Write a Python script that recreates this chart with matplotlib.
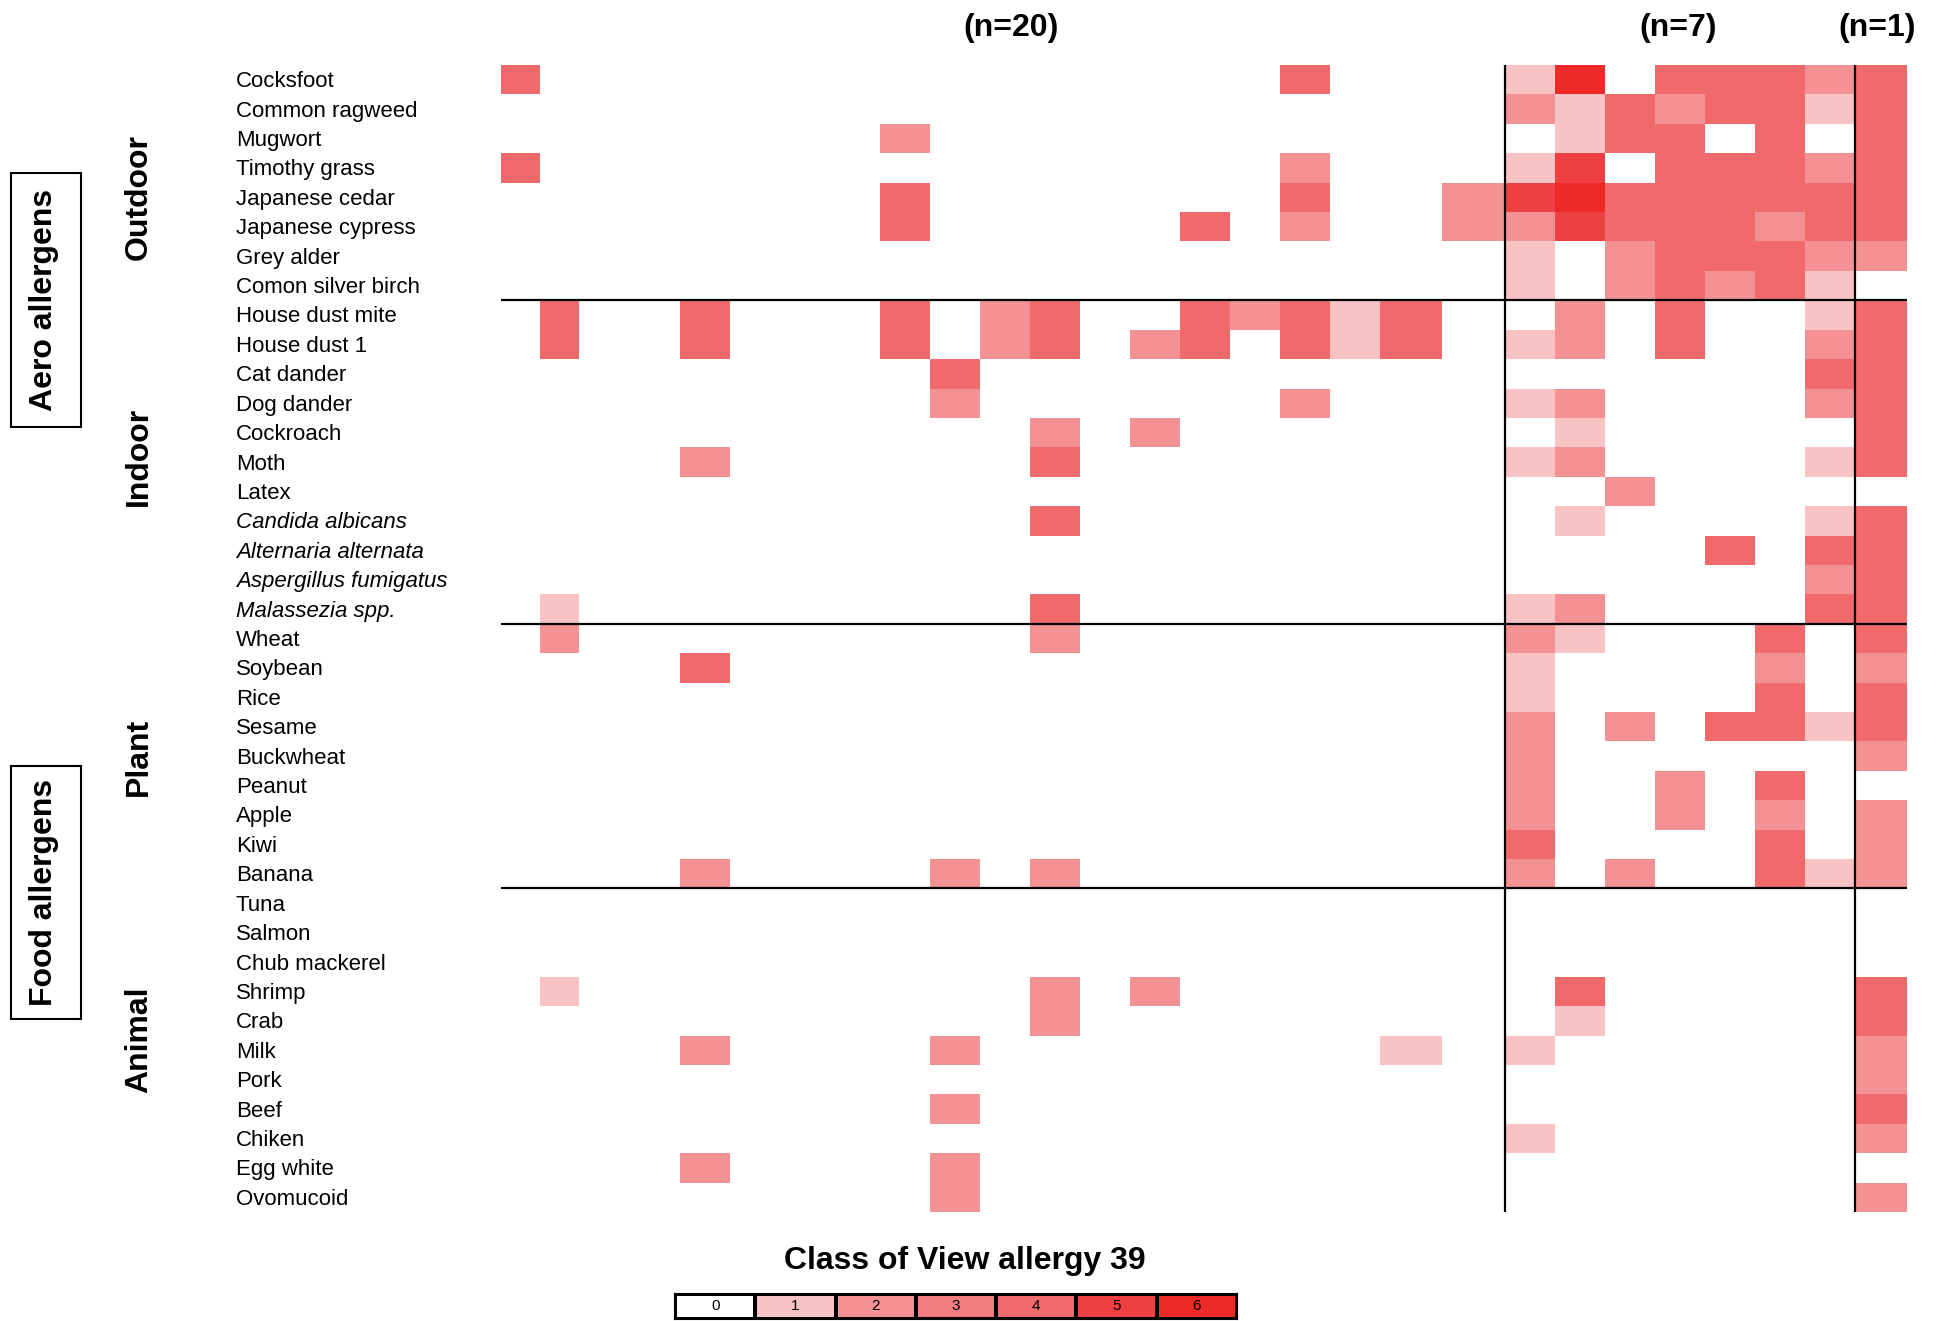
import numpy as np
import matplotlib
matplotlib.use('Agg')
import matplotlib.pyplot as plt
from matplotlib.colors import ListedColormap, BoundaryNorm
from matplotlib.patches import Rectangle

plt.rcParams['font.family'] = ['Liberation Sans', 'DejaVu Sans']

# allergen names, top to bottom
outdoor = ['Cocksfoot', 'Common ragweed', 'Mugwort', 'Timothy grass', 'Japanese cedar',
           'Japanese cypress', 'Grey alder', 'Comon silver birch']
indoor = ['House dust mite', 'House dust 1', 'Cat dander', 'Dog dander', 'Cockroach', 'Moth',
          'Latex', 'Candida albicans', 'Alternaria alternata', 'Aspergillus fumigatus',
          'Malassezia spp.']
plant = ['Wheat', 'Soybean', 'Rice', 'Sesame', 'Buckwheat', 'Peanut', 'Apple', 'Kiwi', 'Banana']
animal = ['Tuna', 'Salmon', 'Chub mackerel', 'Shrimp', 'Crab', 'Milk', 'Pork', 'Beef', 'Chiken',
          'Egg white', 'Ovomucoid']
italic_names = ['Candida albicans', 'Alternaria alternata', 'Aspergillus fumigatus', 'Malassezia spp.']

# class per patient: 20 patients | 7 patients | 1 patient
outdoor_cls = [
    [4,0,0,0,0,0,0,0,0,0,0,0,0,0,0,0,4,0,0,0,  1,6,0,4,4,4,2,4],
    [0,0,0,0,0,0,0,0,0,0,0,0,0,0,0,0,0,0,0,0,  2,1,4,2,4,4,1,4],
    [0,0,0,0,0,0,0,0,2,0,0,0,0,0,0,0,0,0,0,0,  0,1,4,4,0,4,0,4],
    [4,0,0,0,0,0,0,0,0,0,0,0,0,0,0,0,2,0,0,0,  1,5,0,4,4,4,2,4],
    [0,0,0,0,0,0,0,0,4,0,0,0,0,0,0,0,4,0,0,2,  5,6,4,4,4,4,4,4],
    [0,0,0,0,0,0,0,0,4,0,0,0,0,0,4,0,2,0,0,2,  2,5,4,4,4,2,4,4],
    [0,0,0,0,0,0,0,0,0,0,0,0,0,0,0,0,0,0,0,0,  1,0,2,4,4,4,2,2],
    [0,0,0,0,0,0,0,0,0,0,0,0,0,0,0,0,0,0,0,0,  1,0,2,4,2,4,1,0],
]
indoor_cls = [
    [0,4,0,0,4,0,0,0,4,0,2,4,0,0,4,2,4,1,4,0,  0,2,0,4,0,0,1,4],
    [0,4,0,0,4,0,0,0,4,0,2,4,0,2,4,0,4,1,4,0,  1,2,0,4,0,0,2,4],
    [0,0,0,0,0,0,0,0,0,4,0,0,0,0,0,0,0,0,0,0,  0,0,0,0,0,0,4,4],
    [0,0,0,0,0,0,0,0,0,2,0,0,0,0,0,0,2,0,0,0,  1,2,0,0,0,0,2,4],
    [0,0,0,0,0,0,0,0,0,0,0,2,0,2,0,0,0,0,0,0,  0,1,0,0,0,0,0,4],
    [0,0,0,0,2,0,0,0,0,0,0,4,0,0,0,0,0,0,0,0,  1,2,0,0,0,0,1,4],
    [0,0,0,0,0,0,0,0,0,0,0,0,0,0,0,0,0,0,0,0,  0,0,2,0,0,0,0,0],
    [0,0,0,0,0,0,0,0,0,0,0,4,0,0,0,0,0,0,0,0,  0,1,0,0,0,0,1,4],
    [0,0,0,0,0,0,0,0,0,0,0,0,0,0,0,0,0,0,0,0,  0,0,0,0,4,0,4,4],
    [0,0,0,0,0,0,0,0,0,0,0,0,0,0,0,0,0,0,0,0,  0,0,0,0,0,0,2,4],
    [0,1,0,0,0,0,0,0,0,0,0,4,0,0,0,0,0,0,0,0,  1,2,0,0,0,0,4,4],
]
plant_cls = [
    [0,2,0,0,0,0,0,0,0,0,0,2,0,0,0,0,0,0,0,0,  2,1,0,0,0,4,0,4],
    [0,0,0,0,4,0,0,0,0,0,0,0,0,0,0,0,0,0,0,0,  1,0,0,0,0,2,0,2],
    [0,0,0,0,0,0,0,0,0,0,0,0,0,0,0,0,0,0,0,0,  1,0,0,0,0,4,0,4],
    [0,0,0,0,0,0,0,0,0,0,0,0,0,0,0,0,0,0,0,0,  2,0,2,0,4,4,1,4],
    [0,0,0,0,0,0,0,0,0,0,0,0,0,0,0,0,0,0,0,0,  2,0,0,0,0,0,0,2],
    [0,0,0,0,0,0,0,0,0,0,0,0,0,0,0,0,0,0,0,0,  2,0,0,2,0,4,0,0],
    [0,0,0,0,0,0,0,0,0,0,0,0,0,0,0,0,0,0,0,0,  2,0,0,2,0,2,0,2],
    [0,0,0,0,0,0,0,0,0,0,0,0,0,0,0,0,0,0,0,0,  4,0,0,0,0,4,0,2],
    [0,0,0,0,2,0,0,0,0,2,0,2,0,0,0,0,0,0,0,0,  2,0,2,0,0,4,1,2],
]
animal_cls = [
    [0,0,0,0,0,0,0,0,0,0,0,0,0,0,0,0,0,0,0,0,  0,0,0,0,0,0,0,0],
    [0,0,0,0,0,0,0,0,0,0,0,0,0,0,0,0,0,0,0,0,  0,0,0,0,0,0,0,0],
    [0,0,0,0,0,0,0,0,0,0,0,0,0,0,0,0,0,0,0,0,  0,0,0,0,0,0,0,0],
    [0,1,0,0,0,0,0,0,0,0,0,2,0,2,0,0,0,0,0,0,  0,4,0,0,0,0,0,4],
    [0,0,0,0,0,0,0,0,0,0,0,2,0,0,0,0,0,0,0,0,  0,1,0,0,0,0,0,4],
    [0,0,0,0,2,0,0,0,0,2,0,0,0,0,0,0,0,0,1,0,  1,0,0,0,0,0,0,2],
    [0,0,0,0,0,0,0,0,0,0,0,0,0,0,0,0,0,0,0,0,  0,0,0,0,0,0,0,2],
    [0,0,0,0,0,0,0,0,0,2,0,0,0,0,0,0,0,0,0,0,  0,0,0,0,0,0,0,4],
    [0,0,0,0,0,0,0,0,0,0,0,0,0,0,0,0,0,0,0,0,  1,0,0,0,0,0,0,2],
    [0,0,0,0,2,0,0,0,0,2,0,0,0,0,0,0,0,0,0,0,  0,0,0,0,0,0,0,0],
    [0,0,0,0,0,0,0,0,0,2,0,0,0,0,0,0,0,0,0,0,  0,0,0,0,0,0,0,2],
]
group_sizes = ['(n=20)', '(n=7)', '(n=1)']
classes = [0, 1, 2, 3, 4, 5, 6]

class_colors = ['#FFFFFF', '#F9C2C3', '#F49194', '#F27D80', '#F0696B', '#EE4042', '#EE2A29']
cmap = ListedColormap(class_colors)
norm = BoundaryNorm(np.arange(-0.5, 7.5, 1), cmap.N)

names = outdoor + indoor + plant + animal
grid = np.array(outdoor_cls + indoor_cls + plant_cls + animal_cls)

W, H = 1939, 1321
fig = plt.figure(figsize=(W / 100, H / 100), dpi=100)


def fx(px):
    return px / W


def fy(py):
    return 1 - py / H


# column widths are not all equal in the sheet
col_w = [39, 39, 51, 50] + [50] * 14 + [62, 63] + [50] * 7 + [52]
xedges = np.concatenate([[0], np.cumsum(col_w)])
yedges = np.arange(len(names) + 1)

top, bottom, left, right = 65, 1212, 501, 1907
ax = fig.add_axes([fx(left), fy(bottom), (right - left) / W, (bottom - top) / H])
ax.pcolormesh(xedges, yedges, grid, cmap=cmap, norm=norm, edgecolors='none', antialiased=False)
ax.set_xlim(0, xedges[-1])
ax.set_ylim(len(names), 0)
ax.axis('off')

# separators between groups
n_out, n_in, n_pl = len(outdoor), len(indoor), len(plant)
for y in [n_out, n_out + n_in, n_out + n_in + n_pl]:
    ax.plot([0, xedges[-1]], [y, y], color='black', lw=1.6, clip_on=False, solid_capstyle='butt')
for x in [xedges[20], xedges[27]]:
    ax.plot([x, x], [0, len(names)], color='black', lw=1.6, clip_on=False, solid_capstyle='butt')

# row labels
row_h = (bottom - top) / len(names)
for i, name in enumerate(names):
    style = 'italic' if name in italic_names else 'normal'
    fig.text(fx(236), fy(top + 2 + (i + 0.5) * row_h), name, fontsize=16, style=style,
             ha='left', va='center')

# sub group labels
sub = [('Outdoor', 197), ('Indoor', 456), ('Plant', 757), ('Animal', 1040)]
for txt, yc in sub:
    fig.text(fx(139), fy(yc), txt, fontsize=23, fontweight='bold', rotation=90,
             ha='center', va='center')

# main group labels in boxes
for txt, y0, y1 in [('Aero allergens', 173, 427), ('Food allergens', 766, 1019)]:
    fig.text(fx(44), fy((y0 + y1) / 2), txt, fontsize=23, fontweight='bold', rotation=90,
             ha='center', va='center')
    fig.patches.append(Rectangle((fx(11), fy(y1)), (81 - 11) / W, (y1 - y0) / H,
                                 transform=fig.transFigure, fill=False, ec='black', lw=1.5))

# patient counts
for txt, xc in zip(group_sizes, [1011, 1678, 1877]):
    fig.text(fx(xc), fy(28), txt, fontsize=23, fontweight='bold',
             family=['Liberation Sans Narrow', 'Liberation Sans'], ha='center', va='center')

# class legend
fig.text(fx(965), fy(1261), 'Class of View allergy 39', fontsize=23, fontweight='bold',
         ha='center', va='center')
lax = fig.add_axes([fx(675), fy(1319), (1237 - 675) / W, 25 / H])
lax.pcolormesh(np.arange(len(classes) + 1), [0, 1], [classes], cmap=cmap, norm=norm,
               edgecolors='black', linewidth=1.5)
for c in classes:
    lax.text(c + 0.5, 0.5, str(c), fontsize=11, ha='center', va='center')
lax.set_xlim(0, len(classes))
lax.set_ylim(0, 1)
lax.set_xticks([])
lax.set_yticks([])
for s in lax.spines.values():
    s.set_linewidth(1.5)

fig.savefig('out.png', dpi=100)
